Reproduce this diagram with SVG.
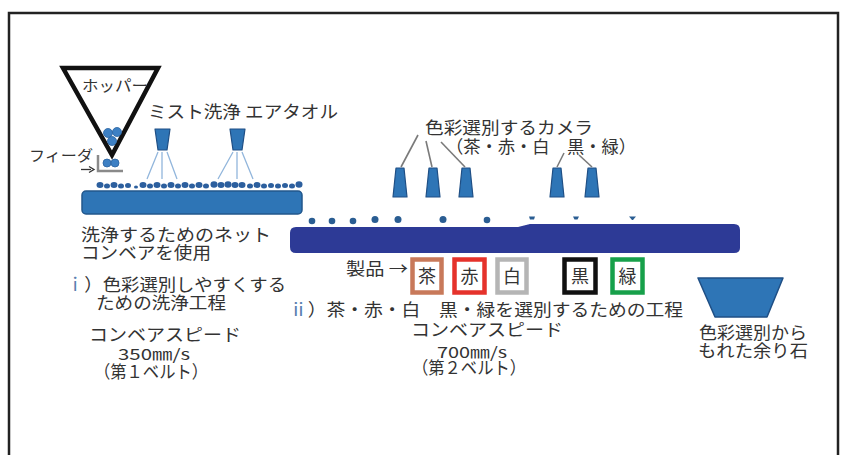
<svg xmlns="http://www.w3.org/2000/svg" width="846" height="455" viewBox="0 0 846 455">
  <style>
    .t { font-family: "Noto Sans CJK JP", "Noto Sans", sans-serif; fill: #333; }
    .m { font-size: 17.5px; }
    .s { font-size: 15px; }
    .num { font-family: "Noto Sans CJK JP", "Liberation Sans", sans-serif; fill: #333; font-size: 15.5px; }
    .idx { fill: #5a7fb0; }
    .belt1 { fill: #2e75b6; stroke: #22578c; stroke-width: 1.5; }
    .belt2 { fill: #2d3a96; }
    .nozzle { fill: #2e75b6; stroke: #1f4f85; stroke-width: 1.2; stroke-linejoin: round; }
    .stone1 { fill: #2c5f9e; }
    .stone2 { fill: #2a5d92; }
    .ball { fill: #3d80c4; stroke: #2a62a0; stroke-width: 0.8; }
    .spray { stroke: #92b6dc; stroke-width: 1.3; fill: none; }
    .lead { stroke: #7a7a7a; stroke-width: 1.6; fill: none; }
    .box { fill: #fff; stroke-width: 4.5; }
    .boxch { font-family: "Noto Sans CJK JP", sans-serif; font-size: 18px; fill: #333; text-anchor: middle; }
  </style>

  <!-- outer frame -->
  <rect x="9" y="13" width="829" height="470" fill="#fff" stroke="#222" stroke-width="2.5"/>

  <!-- hopper with stones -->
  <g id="hopper">
    <polygon points="63,68 158,68 112,155" fill="#fff" stroke="#111" stroke-width="4.5" stroke-linejoin="miter"/>
    <text class="t s" x="82" y="91" textLength="66" lengthAdjust="spacingAndGlyphs">ホッパー</text>
    <circle class="ball" cx="108" cy="133" r="4.5"/>
    <circle class="ball" cx="117" cy="132" r="4.5"/>
    <circle class="ball" cx="112" cy="141" r="4.5"/>
    <circle class="ball" cx="107" cy="163" r="4"/>
    <circle class="ball" cx="115" cy="163" r="4"/>
  </g>

  <!-- feeder -->
  <g id="feeder">
    <path d="M98,155 V171 H123" fill="none" stroke="#8a8a8a" stroke-width="2.5"/>
    <text class="t s" x="29" y="161" textLength="64" lengthAdjust="spacingAndGlyphs">フィーダ</text>
  </g>

  <!-- washing nozzles -->
  <g id="wash-nozzles">
    <text class="t m" x="148" y="118" textLength="190" lengthAdjust="spacingAndGlyphs">ミスト洗浄 エアタオル</text>
    <polygon class="nozzle" points="155,129 170,129 167,150 158,150"/>
    <polygon class="nozzle" points="230,129 245,129 242,150 233,150"/>
  </g>

  <!-- net conveyor (1st belt) -->
  <g id="belt-1">
    <rect class="belt1" x="82" y="191" width="220" height="23" rx="4"/>
    <g class="stone1">
      <ellipse cx="100" cy="185" rx="3.5" ry="3"/>
      <ellipse cx="107" cy="186" rx="3" ry="2.5"/>
      <ellipse cx="114" cy="185" rx="3.5" ry="3"/>
      <ellipse cx="121" cy="186" rx="3" ry="2.5"/>
      <ellipse cx="128" cy="185.5" rx="3" ry="2.5"/>
      <ellipse cx="136" cy="187" rx="2" ry="1.5"/>
      <ellipse cx="143" cy="185" rx="3.5" ry="3"/>
      <ellipse cx="150" cy="186" rx="3" ry="2.5"/>
      <ellipse cx="157" cy="185" rx="3.5" ry="3"/>
      <ellipse cx="164" cy="186" rx="3" ry="2.5"/>
      <ellipse cx="171" cy="185" rx="3.5" ry="3"/>
      <ellipse cx="178" cy="186" rx="3" ry="2.5"/>
      <ellipse cx="185" cy="185" rx="3.5" ry="3"/>
      <ellipse cx="192" cy="186" rx="3" ry="2.5"/>
      <ellipse cx="199" cy="185" rx="3.5" ry="3"/>
      <ellipse cx="206" cy="186" rx="3" ry="2.5"/>
      <ellipse cx="214" cy="184.5" rx="3.5" ry="3.2"/>
      <ellipse cx="221" cy="185" rx="3.5" ry="3"/>
      <ellipse cx="228" cy="184.5" rx="3.5" ry="3.2"/>
      <ellipse cx="235" cy="185" rx="3.5" ry="3"/>
      <ellipse cx="242" cy="185" rx="3.5" ry="3"/>
      <ellipse cx="250" cy="186" rx="3" ry="2.5"/>
      <ellipse cx="257" cy="185" rx="3.5" ry="3"/>
      <ellipse cx="264" cy="186" rx="3" ry="2.5"/>
      <ellipse cx="271" cy="185.5" rx="3" ry="2.5"/>
      <ellipse cx="278" cy="186" rx="3" ry="2.5"/>
      <ellipse cx="285" cy="185.5" rx="3" ry="2.5"/>
      <ellipse cx="292" cy="186" rx="3" ry="2.5"/>
      <ellipse cx="299" cy="184.5" rx="3.5" ry="3.2"/>
    </g>
    <text class="t m" x="81" y="241" textLength="190" lengthAdjust="spacingAndGlyphs">洗浄するためのネット</text>
    <text class="t m" x="81" y="259" textLength="130" lengthAdjust="spacingAndGlyphs">コンベアを使用</text>
  </g>

  <!-- step i -->
  <g id="step-1">
    <text class="t m" x="66" y="291" textLength="220" lengthAdjust="spacingAndGlyphs"><tspan class="idx">ｉ</tspan>）色彩選別しやすくする</text>
    <text class="t m" x="96" y="309" textLength="130" lengthAdjust="spacingAndGlyphs">ための洗浄工程</text>
    <text class="t m" x="89" y="341" textLength="152" lengthAdjust="spacingAndGlyphs">コンベアスピード</text>
    <text class="num" x="118" y="360" textLength="72" lengthAdjust="spacingAndGlyphs">350㎜/s</text>
    <text class="t m" x="94" y="378" textLength="114" lengthAdjust="spacingAndGlyphs">（第１ベルト）</text>
  </g>

  <!-- sorting conveyor (2nd belt) -->
  <g id="belt-2">
    <path class="belt2" d="M296,227 L518,227 L530,224 L734,224 Q740,224 740,230 L740,248 Q740,253 734,253 L296,253 Q290,253 290,247 L290,233 Q290,227 296,227 Z"/>
    <g class="stone2">
      <circle cx="312" cy="221" r="3.3"/>
      <circle cx="332" cy="221" r="3.3"/>
      <circle cx="353" cy="221" r="3.3"/>
      <circle cx="375" cy="219.5" r="3.5"/>
      <circle cx="398" cy="219.5" r="3.5"/>
      <circle cx="443" cy="219.5" r="3.5"/>
      <circle cx="487" cy="220" r="3.3"/>
      <path d="M529,216.5 h6 l-1,3 h-4 Z"/>
      <path d="M573,216.5 h6 l-1.5,3 h-3 Z"/>
      <path d="M629,216.5 h7 l-3,3.5 h-1 Z"/>
    </g>
  </g>

  <!-- colour sorting cameras -->
  <g id="cameras">
    <text class="t m" x="425" y="134" textLength="168" lengthAdjust="spacingAndGlyphs">色彩選別するカメラ</text>
    <text class="t m" x="446" y="153" textLength="190" lengthAdjust="spacingAndGlyphs">（茶・赤・白　黒・緑）</text>
    <polygon class="nozzle" points="396,168 404,168 407,197 393,197"/>
    <polygon class="nozzle" points="429,168 437,168 440,197 426,197"/>
    <polygon class="nozzle" points="462,168 470,168 473,197 459,197"/>
    <polygon class="nozzle" points="553,168 561,168 564,197 550,197"/>
    <polygon class="nozzle" points="588,168 596,168 599,197 585,197"/>
  </g>

  <!-- product colour labels -->
  <g id="products">
    <text class="t" x="346" y="275" font-size="16.5" textLength="62" lengthAdjust="spacingAndGlyphs">製品 →</text>
    <rect class="box" x="412.5" y="259.5" width="29" height="33" stroke="#c8795a"/>
    <text class="boxch" x="427" y="283">茶</text>
    <rect class="box" x="454.5" y="259.5" width="30" height="33" stroke="#e5322b"/>
    <text class="boxch" x="469.5" y="283">赤</text>
    <rect class="box" x="497.5" y="259.5" width="29" height="33" stroke="#b5b5b5"/>
    <text class="boxch" x="512" y="283">白</text>
    <rect class="box" x="564.5" y="259.5" width="31" height="33" stroke="#111" stroke-width="5"/>
    <text class="boxch" x="580" y="283">黒</text>
    <rect class="box" x="612.5" y="259.5" width="30" height="33" stroke="#17a04a"/>
    <text class="boxch" x="627.5" y="283" fill="#3a6a8a">緑</text>
  </g>

  <!-- step ii -->
  <g id="step-2">
    <text class="t m" x="289" y="316" textLength="394" lengthAdjust="spacingAndGlyphs"><tspan class="idx">ⅱ</tspan>）茶・赤・白　黒・緑を選別するための工程</text>
    <text class="t m" x="411" y="336" textLength="152" lengthAdjust="spacingAndGlyphs">コンベアスピード</text>
    <text class="num" x="437" y="358" textLength="70" lengthAdjust="spacingAndGlyphs">700㎜/s</text>
    <text class="t m" x="412" y="374" textLength="114" lengthAdjust="spacingAndGlyphs">（第２ベルト）</text>
  </g>

  <!-- reject bin -->
  <g id="reject-bin">
    <polygon points="698,278 783,278 767,317 715,317" fill="#2e75b6" stroke="#1f4f85" stroke-width="1.5" stroke-linejoin="round"/>
    <text class="t m" x="699" y="339" textLength="108" lengthAdjust="spacingAndGlyphs">色彩選別から</text>
    <text class="t m" x="698" y="357" textLength="110" lengthAdjust="spacingAndGlyphs">もれた余り石</text>
  </g>

  <!-- connectors: spray fans, camera leaders, feeder arrow -->
  <g id="connectors">
    <path class="spray" d="M158,152 L147,179 M162,152 L162,179 M167,152 L177,179"/>
    <path class="spray" d="M233,152 L218,179 M237,152 L237,179 M242,152 L253,179"/>
    <path class="lead" d="M401,167 L418,135"/>
    <path class="lead" d="M432,167 L426,141"/>
    <path class="lead" d="M465,167 L441,142"/>
    <path class="lead" d="M557,167 L564,153"/>
    <path class="lead" d="M592,167 L579,155"/>
    <path d="M81,169.5 H91" stroke="#333" stroke-width="1.3"/>
    <path d="M89,166.5 L94,169.5 L89,172.5" fill="none" stroke="#333" stroke-width="1.3"/>
  </g>
</svg>
